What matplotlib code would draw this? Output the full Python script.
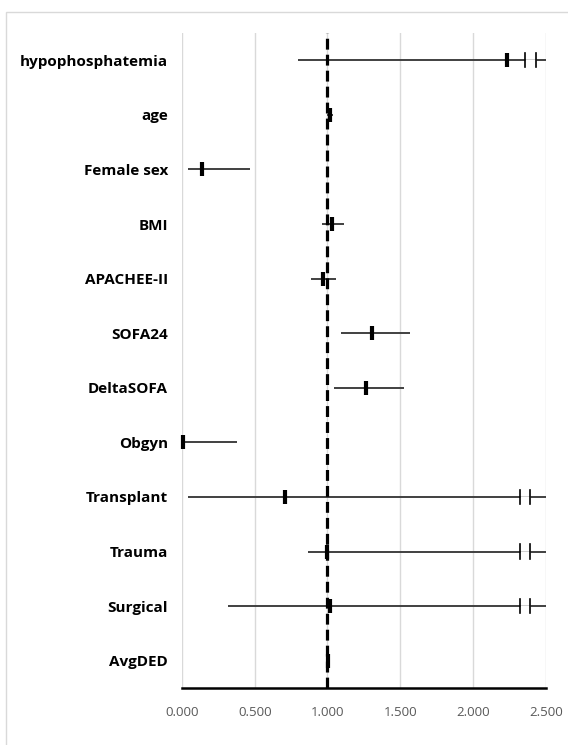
import numpy as np
import matplotlib.pyplot as plt
from matplotlib.patches import Rectangle

# 数据
labels = ['hypophosphatemia', 'age', 'Female sex', 'BMI', 'APACHEE-II', 'SOFA24',
          'DeltaSOFA', 'Obgyn', 'Transplant', 'Trauma', 'Surgical', 'AvgDED']
odds = [2.231, 1.017, 0.140, 1.033, 0.967, 1.308, 1.262, 0.005, 0.708, 0.998, 1.020, 1.004]
ci_low = [0.795, 1.000, 0.040, 0.960, 0.889, 1.091, 1.043, 0.000, 0.040, 0.866, 0.316, 0.995]
ci_high = [2.5, 1.040, 0.467, 1.113, 1.060, 1.569, 1.528, 0.378, 2.5, 2.5, 2.5, 1.010]
# 截断标记（上限超出坐标轴）
breaks = [(2.357, 2.430), None, None, None, None, None, None, None,
          (2.323, 2.392), (2.323, 2.392), (2.323, 2.392), None]
xticks = [0.0, 0.5, 1.0, 1.5, 2.0, 2.5]

fig = plt.figure(figsize=(5.68, 7.45), dpi=100)
fig.patches.append(Rectangle((6 / 568, -0.1), 1.2, 1 - 12 / 745 + 0.1, transform=fig.transFigure,
                             fill=False, edgecolor='#d9d9d9', lw=1.0))
ax = fig.add_axes([182 / 568, 1 - 688 / 745, (545.7 - 182) / 568, (688 - 33) / 745])

y = np.arange(len(labels))

# 置信区间
ax.hlines(y, ci_low, ci_high, color='#404040', lw=1.4, zorder=3)

# 截断标记
for yi, b in zip(y, breaks):
    if b is None:
        continue
    ax.plot(b, [yi, yi], color='white', lw=1.8, zorder=4, solid_capstyle='butt')
    for bx in b:
        ax.plot([bx, bx], [yi - 0.13, yi + 0.13], color='black', lw=1.2, zorder=5)

# 点估计
ax.plot(odds, y, linestyle='none', marker='|', markersize=9.5, markeredgewidth=3.0,
        color='black', zorder=5, clip_on=False)

# 参考线
ax.axvline(1.0, color='black', lw=2.3, linestyle=(0, (3.4, 1.6)), zorder=6)

ax.set_xlim(0, 2.5)
ax.set_ylim(len(labels) - 0.5, -0.5)
ax.set_xticks(xticks)
ax.set_xticklabels([f'{t:.3f}' for t in xticks], color='#595959', fontsize=9.5,
                   family='Open Sans')
ax.set_yticks(y)
ax.set_yticklabels(labels, fontsize=11, fontweight='bold', family='Open Sans')
ax.tick_params(axis='both', length=0)
ax.tick_params(axis='x', pad=13)
ax.tick_params(axis='y', pad=10)

ax.grid(axis='x', color='#d9d9d9', lw=1.0, zorder=0)
ax.set_axisbelow(True)
for s in ['top', 'right', 'left']:
    ax.spines[s].set_visible(False)
ax.spines['bottom'].set_color('black')
ax.spines['bottom'].set_linewidth(1.8)

fig.savefig('out.png', dpi=100)
